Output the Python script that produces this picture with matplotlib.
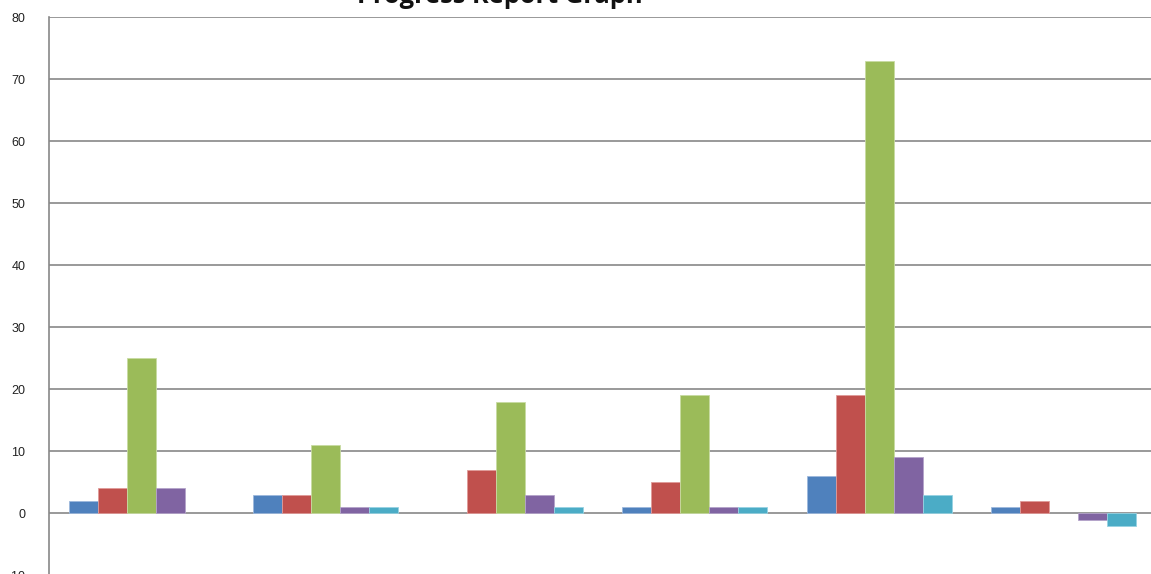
import numpy as np
import matplotlib
matplotlib.use("Agg")
import matplotlib.pyplot as plt

# Data: six report groups, five series each
groups = ["1", "2", "3", "4", "5", "6"]
series_a = [2, 3, 0, 1, 6, 1]
series_b = [4, 3, 7, 5, 19, 2]
series_c = [25, 11, 18, 19, 73, 0]
series_d = [4, 1, 3, 1, 9, -1]
series_e = [0, 1, 1, 1, 3, -2]

y_ticks = list(range(-10, 81, 10))

colors = ["#4F81BD", "#C0504D", "#9BBB59", "#8064A2", "#4BACC6"]
edges = ["#9DB9DC", "#E09A98", "#C8DBA2", "#B4A3CA", "#98D2E2"]

fig = plt.figure(figsize=(11.51, 5.74), dpi=100)
W, H = 1151, 574
left_px, right_px = 49, 1156
top_px, bottom_px = 17.3, 575.3
ax = fig.add_axes([left_px / W, (H - bottom_px) / H,
                   (right_px - left_px) / W, (bottom_px - top_px) / H])

x = np.arange(len(groups))
bw = 0.157
all_series = [series_a, series_b, series_c, series_d, series_e]
for i, vals in enumerate(all_series):
    lw = [0.6 if v != 0 else 0 for v in vals]
    ax.bar(x + (i - 2) * bw, vals, width=bw, color=colors[i],
           edgecolor=edges[i], linewidth=lw, zorder=3)

ax.set_xlim(-0.5, len(groups) - 0.5)
ax.set_ylim(-10, 80)
ax.set_yticks(y_ticks)
ax.set_yticklabels([str(t) for t in y_ticks], family="Liberation Sans",
                   fontsize=9, color="#222222")
ax.tick_params(axis="y", length=0, pad=17)
ax.set_xticks([])
ax.grid(axis="y", color="#888888", linewidth=1.2, zorder=1)
for s in ["top", "right", "bottom"]:
    ax.spines[s].set_visible(False)
ax.spines["left"].set_color("#888888")
ax.spines["left"].set_linewidth(1.2)
ax.spines["left"].set_zorder(4)

fig.text(500 / W, (H - 3) / H, "Progress Report Graph", ha="center",
         va="baseline", fontsize=18.3, fontweight="bold", family="Open Sans",
         color="#111111")

fig.savefig("out.png", dpi=100)
